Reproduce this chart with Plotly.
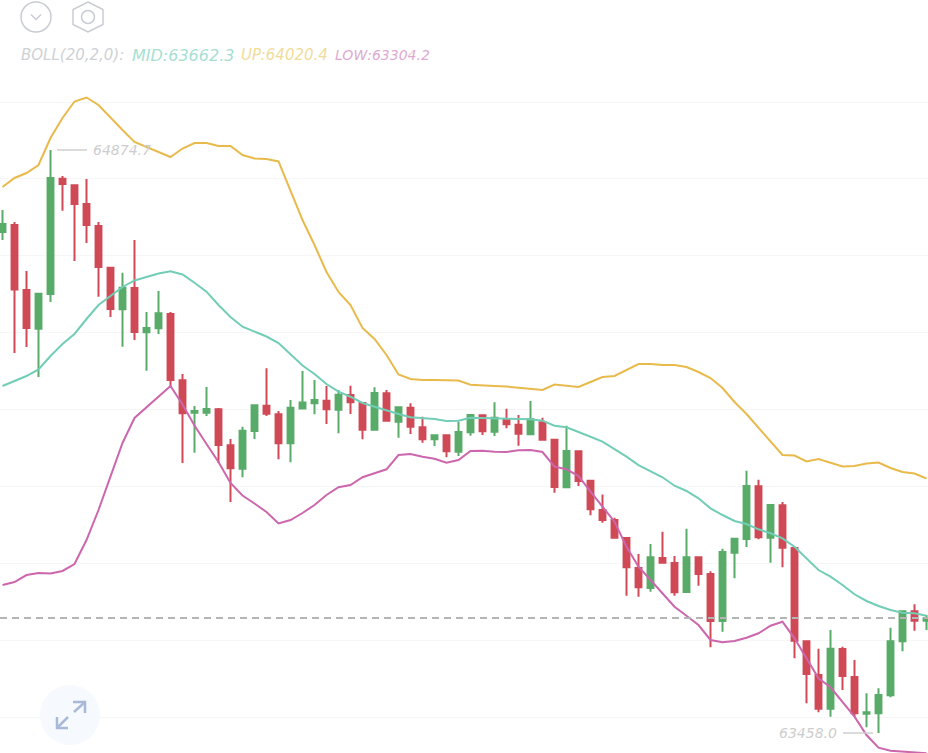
import plotly.graph_objects as go

# Candle prices, one entry per period
opens = [64675.4, 64692.4, 64534.5, 64440.5, 64524.8, 64805.0, 64788.9, 64743.5, 64690.0, 64588.7,
         64487.6, 64539.4, 64431.7, 64441.4, 64476.2, 64315.1, 64236.3, 64236.3, 64244.6, 64157.1,
         64100.2, 64191.9, 64253.3, 64232.5, 64162.0, 64246.5, 64259.2, 64265.5, 64243.6, 64279.3,
         64259.9, 64195.0, 64283.5, 64214.5, 64248.5, 64200.9, 64171.7, 64181.4, 64141.6, 64188.7,
         64230.0, 64190.2, 64221.0, 64207.2, 64183.9, 64213.0, 64170.7, 64055.1, 64142.5, 64071.1,
         63999.9, 63975.6, 63931.9, 63859.0, 63810.4, 63883.3, 63871.1, 63800.6, 63885.0, 63844.4,
         63730.2, 63896.1, 63929.4, 64057.5, 63932.6, 64011.3, 63907.6, 63680.8, 63598.9, 63517.1,
         63662.1, 63594.1, 63504.9, 63505.9, 63549.6, 63680.8, 63753.7, 63730.9]
highs = [64728.9, 64699.7, 64580.7, 64527.2, 64874.7, 64811.5, 64789.6, 64804.2, 64699.7, 64590.4,
         64576.5, 64656.0, 64481.0, 64532.1, 64481.0, 64330.4, 64252.6, 64298.8, 64247.8, 64172.4,
         64202.3, 64255.0, 64344.2, 64240.5, 64267.2, 64337.7, 64315.8, 64301.2, 64291.5, 64301.9,
         64261.6, 64298.1, 64291.5, 64250.2, 64259.2, 64226.6, 64182.2, 64182.2, 64214.5, 64232.5,
         64230.7, 64261.6, 64246.1, 64230.7, 64264.8, 64224.2, 64171.2, 64204.8, 64143.3, 64071.6,
         64037.6, 63981.2, 63933.1, 63893.0, 63917.3, 63947.2, 63888.1, 63954.5, 63885.7, 63850.9,
         63905.9, 63930.6, 64095.4, 64073.5, 64012.5, 64019.3, 63908.0, 63681.6, 63662.9, 63708.3,
         63667.7, 63635.4, 63554.5, 63566.6, 63713.9, 63755.2, 63770.8, 63744.7]
lows = [64656.0, 64381.4, 64396.0, 64323.1, 64505.3, 64727.2, 64605.0, 64648.7, 64518.2, 64468.9,
        64396.7, 64413.0, 64338.4, 64427.6, 64299.5, 64114.1, 64139.1, 64228.3, 64114.1, 64019.3,
        64079.4, 64172.4, 64228.3, 64123.1, 64115.8, 64245.3, 64232.5, 64208.9, 64186.3, 64233.2,
        64171.7, 64194.3, 64216.2, 64175.6, 64184.6, 64163.4, 64155.4, 64128.0, 64131.1, 64180.4,
        64182.2, 64179.7, 64198.4, 64156.1, 64183.4, 64168.3, 64041.9, 64054.6, 64058.2, 63987.0,
        63969.0, 63931.9, 63791.7, 63789.2, 63801.4, 63871.1, 63791.7, 63799.4, 63815.9, 63666.3,
        63704.2, 63833.9, 63910.0, 63928.7, 63871.8, 63860.7, 63639.5, 63530.2, 63508.3, 63497.6,
        63562.5, 63497.6, 63471.9, 63458.0, 63544.8, 63656.5, 63706.6, 63708.3]
closes = [64694.9, 64535.7, 64442.2, 64525.5, 64806.7, 64792.1, 64743.5, 64692.4, 64590.4, 64488.3,
          64540.1, 64432.4, 64442.2, 64477.9, 64315.8, 64234.9, 64240.5, 64245.3, 64157.8, 64101.2,
          64192.6, 64254.3, 64233.9, 64162.0, 64248.5, 64261.1, 64267.2, 64244.6, 64280.1, 64261.6,
          64195.0, 64284.2, 64216.9, 64249.5, 64202.3, 64171.7, 64181.4, 64142.5, 64189.4, 64230.7,
          64191.1, 64224.2, 64208.2, 64185.3, 64220.3, 64170.7, 64055.8, 64143.3, 64070.4, 64001.6,
          63975.6, 63932.6, 63860.7, 63812.1, 63885.0, 63871.8, 63799.9, 63885.0, 63844.4, 63730.2,
          63897.8, 63930.2, 64058.2, 63933.6, 64012.0, 63908.3, 63682.3, 63601.4, 63517.1, 63662.9,
          63596.5, 63505.9, 63508.3, 63550.3, 63680.8, 63753.7, 63730.9, 63736.7]

# Bollinger bands, one entry per period
boll_up = [64784.8, 64806.7, 64818.8, 64838.2, 64903.9, 64952.5, 64992.6, 65002.3, 64984.0, 64952.5,
           64923.3, 64894.1, 64882.0, 64869.8, 64857.7, 64878.3, 64891.7, 64891.7, 64884.4, 64884.4,
           64862.5, 64854.0, 64852.8, 64846.8, 64777.5, 64704.6, 64643.8, 64578.2, 64529.6, 64498.0,
           64442.2, 64415.4, 64376.5, 64329.2, 64318.2, 64315.8, 64315.8, 64315.8, 64314.6, 64304.4,
           64303.6, 64301.2, 64300.0, 64297.6, 64293.9, 64291.5, 64304.9, 64302.4, 64298.8, 64310.9,
           64323.1, 64325.5, 64340.1, 64354.7, 64354.7, 64352.2, 64352.2, 64347.4, 64335.2, 64320.7,
           64296.4, 64262.3, 64233.2, 64199.2, 64167.6, 64133.5, 64132.3, 64117.8, 64123.8, 64114.1,
           64105.6, 64106.8, 64112.9, 64115.3, 64102.0, 64092.2, 64088.6, 64076.4]
boll_mid = [64301.2, 64313.4, 64325.5, 64341.3, 64374.1, 64403.3, 64427.6, 64464.0, 64498.0, 64519.9,
            64541.8, 64557.6, 64566.8, 64574.6, 64579.9, 64572.2, 64552.2, 64530.4, 64498.0, 64468.9,
            64445.3, 64432.4, 64421.5, 64405.7, 64379.0, 64351.0, 64330.4, 64306.1, 64287.4, 64275.2,
            64259.9, 64250.9, 64241.2, 64233.2, 64225.2, 64222.7, 64221.0, 64216.2, 64216.9, 64224.2,
            64223.5, 64222.7, 64222.7, 64221.0, 64220.3, 64216.9, 64204.8, 64200.9, 64190.2, 64178.0,
            64165.9, 64148.1, 64129.4, 64109.2, 64094.7, 64079.4, 64058.9, 64046.1, 64028.3, 64004.0,
            63987.7, 63973.2, 63965.9, 63953.0, 63943.3, 63931.1, 63910.7, 63882.5, 63854.1, 63837.8,
            63817.6, 63795.1, 63778.8, 63766.6, 63756.9, 63750.3, 63748.9, 63743.0]
boll_low = [63817.6, 63824.9, 63841.9, 63846.8, 63845.6, 63851.7, 63868.7, 63927.0, 63999.9, 64082.5,
            64162.7, 64223.5, 64249.0, 64275.7, 64301.2, 64256.3, 64205.2, 64160.3, 64116.5, 64065.5,
            64035.1, 64015.7, 63995.0, 63967.1, 63975.6, 63992.6, 64012.0, 64036.3, 64055.1, 64060.6,
            64079.4, 64089.1, 64098.8, 64133.5, 64136.0, 64129.4, 64124.6, 64114.8, 64121.4, 64143.3,
            64144.0, 64141.6, 64140.8, 64145.0, 64145.7, 64140.8, 64105.1, 64098.8, 64082.5, 64044.4,
            64007.2, 63971.5, 63910.7, 63862.1, 63829.8, 63797.5, 63764.9, 63743.0, 63720.4, 63684.0,
            63678.4, 63681.6, 63689.6, 63700.3, 63718.7, 63728.5, 63688.1, 63639.5, 63590.9, 63569.1,
            63534.1, 63497.6, 63453.1, 63422.3, 63415.0, 63412.6, 63411.1, 63408.7]

grid_prices = [64991.3, 64804.5, 64617.6, 64430.7, 64243.8, 64056.9, 63870.0, 63683.1, 63496.2]
last_price = 63737.5

legend_parts = [
    ("BOLL(20,2,0):", "#cfd1d5", 22, 15),
    ("MID:63662.3", "#a6dfd1", 133, 16),
    ("UP:64020.4", "#f0dc9a", 242, 15),
    ("LOW:63304.2", "#deaad1", 336, 14),
]

WIDTH, HEIGHT = 928, 753
GREEN, RED = "#58ab68", "#cf4a56"
YELLOW, TEAL, MAGENTA = "#e8ba4c", "#72cdb6", "#cc66ad"
ICON, LABEL = "#c9ccd3", "#cdcdcd"
TEXT_FONT = "DejaVu Sans ExtraLight, DejaVu Sans"
periods = list(range(len(opens)))


def px(x, y):
    return x / WIDTH, 1 - y / HEIGHT


def path(points, close=False):
    parts = []
    for n, (x, y) in enumerate(points):
        u, v = px(x, y)
        parts.append(f"{'M' if n == 0 else 'L'} {u:.5f} {v:.5f}")
    return " ".join(parts) + (" Z" if close else "")


def circle(cx, cy, r, line=None, fill=None, width=1.5):
    x0, y0 = px(cx - r, cy + r)
    x1, y1 = px(cx + r, cy - r)
    return dict(type="circle", xref="paper", yref="paper", x0=x0, y0=y0, x1=x1, y1=y1,
                line=dict(color=line or "rgba(0,0,0,0)", width=width if line else 0),
                fillcolor=fill or "rgba(0,0,0,0)", layer="above")


def stroke(points, color, width=1.5, close=False):
    return dict(type="path", xref="paper", yref="paper", path=path(points, close),
                line=dict(color=color, width=width), layer="above")


fig = go.Figure()

fig.add_trace(go.Candlestick(
    x=periods, open=opens, high=highs, low=lows, close=closes,
    increasing=dict(line=dict(color=GREEN, width=2), fillcolor=GREEN),
    decreasing=dict(line=dict(color=RED, width=2), fillcolor=RED),
    whiskerwidth=0, hoverinfo="skip", showlegend=False,
))

for values, color in ((boll_mid, TEAL), (boll_up, YELLOW), (boll_low, MAGENTA)):
    fig.add_trace(go.Scatter(x=periods, y=values, mode="lines",
                             line=dict(color=color, width=2),
                             hoverinfo="skip", showlegend=False))

shapes = [
    # current price
    dict(type="line", xref="paper", yref="y", x0=0, x1=1, y0=last_price, y1=last_price,
         line=dict(color="#b4b4b4", width=1.8, dash="7px,5px"), layer="above"),
    # header buttons
    circle(36, 17, 15, line=ICON),
    stroke([(31, 14.5), (36, 19.5), (41, 14.5)], ICON),
    stroke([(88, 2), (103, 9.5), (103, 24.5), (88, 32), (73, 24.5), (73, 9.5)], ICON, close=True),
    circle(88, 17, 6.5, line=ICON),
    # fullscreen button
    circle(70, 715, 30, fill="#f6f9fd"),
    stroke([(74, 712), (85, 702)], "#a9bad9", 2.5),
    stroke([(73, 702), (85, 702), (85, 713)], "#a9bad9", 2.5),
    stroke([(57, 728), (68, 717)], "#a9bad9", 2.5),
    stroke([(57, 717), (57, 728), (68, 728)], "#a9bad9", 2.5),
]

# leaders from the extreme candles to their price labels
hi_val, lo_val = max(highs), min(lows)
hi_idx, lo_idx = highs.index(hi_val), lows.index(lo_val)
shapes += [
    dict(type="line", xref="x", yref="y", xsizemode="pixel", xanchor=hi_idx, x0=6.5, x1=36.5,
         y0=hi_val, y1=hi_val, line=dict(color="#cfcfcf", width=1.5), layer="above"),
    dict(type="line", xref="x", yref="y", xsizemode="pixel", xanchor=lo_idx, x0=-35.5, x1=-5.5,
         y0=lo_val, y1=lo_val, line=dict(color="#cfcfcf", width=1.5), layer="above"),
]

annotations = [
    dict(text=f"{hi_val:.1f}", x=hi_idx, y=hi_val, xref="x", yref="y", xanchor="left", yanchor="middle",
         xshift=40, showarrow=False, font=dict(family=TEXT_FONT, size=14, color=LABEL, style="italic")),
    dict(text=f"{lo_val:.1f}", x=lo_idx, y=lo_val, xref="x", yref="y", xanchor="right", yanchor="middle",
         xshift=-40, showarrow=False, font=dict(family=TEXT_FONT, size=14, color=LABEL, style="italic")),
]
for text, color, left, size in legend_parts:
    u, v = px(left, 55)
    annotations.append(dict(text=text, x=u, y=v, xref="paper", yref="paper", xanchor="left", yanchor="middle",
                            showarrow=False, xshift=-3,
                            font=dict(family=TEXT_FONT, size=size, color=color, style="italic")))

fig.update_layout(
    width=WIDTH, height=HEIGHT, margin=dict(l=0, r=0, t=0, b=0),
    paper_bgcolor="white", plot_bgcolor="white", showlegend=False,
    shapes=shapes, annotations=annotations,
    xaxis=dict(range=[-0.2083, 77.125], visible=False, rangeslider=dict(visible=False), fixedrange=True),
    yaxis=dict(range=[63409.4, 65239.2], tickvals=grid_prices, showticklabels=False, ticks="",
               showgrid=True, gridcolor="#f6f6f6", gridwidth=1.2, zeroline=False, showline=False, fixedrange=True),
)

fig.write_html("out.html", config={"displayModeBar": False})
